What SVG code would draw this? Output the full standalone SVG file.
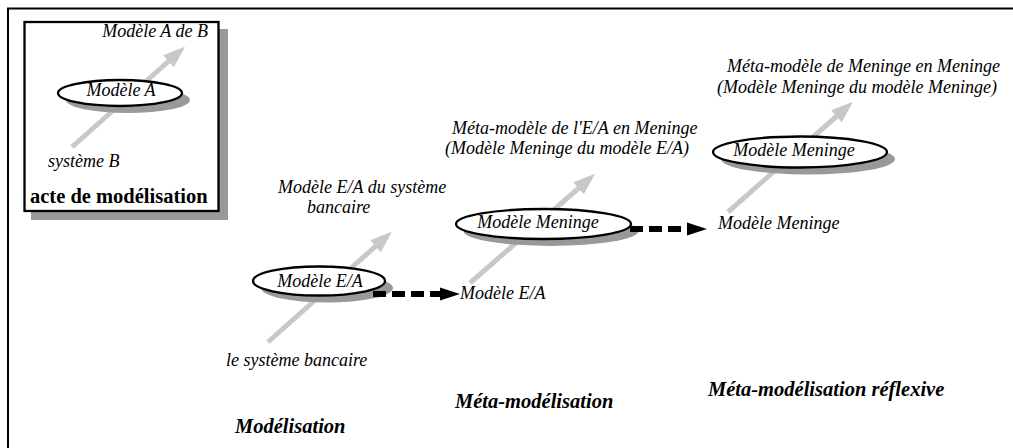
<svg xmlns="http://www.w3.org/2000/svg" width="1013" height="448" viewBox="0 0 1013 448">
  <style>
    text { font-family: "Liberation Serif", "Times New Roman", serif; fill: #000; }
    .it { font-style: italic; font-size: 18px; }
    .mid { text-anchor: middle; }
    .title { font-style: italic; font-weight: bold; font-size: 20.5px; }
    .boxtitle { font-weight: bold; font-size: 20.5px; }
    .flow { stroke: #c8c8c8; stroke-width: 5; fill: none; marker-end: url(#grayHead); }
    .shadow { fill: #999; }
    .model { fill: #fff; stroke: #000; stroke-width: 2.3; }
    .dash { stroke: #000; stroke-width: 6; stroke-dasharray: 13 6; fill: none; }
    .head { fill: #000; }
  </style>
  <defs>
    <marker id="grayHead" markerUnits="userSpaceOnUse" markerWidth="22" markerHeight="16" refX="2" refY="8" orient="auto">
      <path d="M0,0 L22,8 L0,16 Z" fill="#c8c8c8"/>
    </marker>
  </defs>

  <!-- outer frame (top and left edges) -->
  <path d="M8,448 V8.5 H1013" fill="none" stroke="#000" stroke-width="2"/>

  <!-- legend box: the act of modelling -->
  <g id="legend">
    <rect x="31" y="29" width="197" height="191" class="shadow"/>
    <rect x="24.5" y="22" width="194" height="189" fill="#fff" stroke="#000" stroke-width="2.3"/>
    <line x1="72" y1="147" x2="170" y2="60" class="flow"/>
    <ellipse cx="128" cy="100" rx="62" ry="13" class="shadow"/>
    <ellipse cx="120" cy="93" rx="62" ry="13" class="model"/>
    <text x="121" y="96" class="it mid">Modèle A</text>
    <text x="208" y="37" class="it" text-anchor="end">Modèle A de B</text>
    <text x="48" y="167" class="it">système B</text>
    <text x="30" y="203" class="boxtitle">acte de modélisation</text>
  </g>

  <!-- stage 1: modelling -->
  <g id="stage-modelisation">
    <line x1="268" y1="342" x2="377" y2="245" class="flow"/>
    <ellipse cx="327" cy="288" rx="66" ry="14.5" class="shadow"/>
    <ellipse cx="319" cy="281" rx="66" ry="14.5" class="model"/>
    <text x="320" y="287" class="it mid">Modèle E/A</text>
    <text x="278" y="193" class="it">Modèle E/A du système</text>
    <text x="307" y="213" class="it">bancaire</text>
    <text x="226" y="366" class="it">le système bancaire</text>
    <text x="235" y="433" class="title">Modélisation</text>
  </g>

  <!-- stage 2: meta-modelling -->
  <g id="stage-meta">
    <line x1="470" y1="283" x2="580" y2="187" class="flow"/>
    <ellipse cx="551" cy="231" rx="87.5" ry="15" class="shadow"/>
    <ellipse cx="543.5" cy="224" rx="87.5" ry="15" class="model"/>
    <text x="538" y="228" class="it mid">Modèle Meninge</text>
    <text x="460" y="299" class="it">Modèle E/A</text>
    <text x="452" y="134" class="it">Méta-modèle de l'E/A en Meninge</text>
    <text x="445" y="154" class="it">(Modèle Meninge du modèle E/A)</text>
    <text x="455" y="408" class="title">Méta-modélisation</text>
  </g>

  <!-- stage 3: reflexive meta-modelling -->
  <g id="stage-reflexive">
    <line x1="728" y1="212" x2="838" y2="115" class="flow"/>
    <ellipse cx="808" cy="159" rx="87" ry="15.5" class="shadow"/>
    <ellipse cx="800" cy="152" rx="87" ry="15.5" class="model"/>
    <text x="794" y="156" class="it mid">Modèle Meninge</text>
    <text x="718" y="229" class="it">Modèle Meninge</text>
    <text x="727" y="72" class="it">Méta-modèle de Meninge en Meninge</text>
    <text x="717" y="93" class="it">(Modèle Meninge du modèle Meninge)</text>
    <text x="708" y="396" class="title">Méta-modélisation réflexive</text>
  </g>

  <!-- dashed transitions between stages -->
  <g id="connectors">
    <line x1="373" y1="294" x2="442" y2="294" class="dash"/>
    <path d="M440,287.5 L460,294 L440,300.5 Z" class="head"/>
    <line x1="630" y1="229" x2="689" y2="229" class="dash"/>
    <path d="M687,222.5 L707,229 L687,235.5 Z" class="head"/>
  </g>
</svg>
